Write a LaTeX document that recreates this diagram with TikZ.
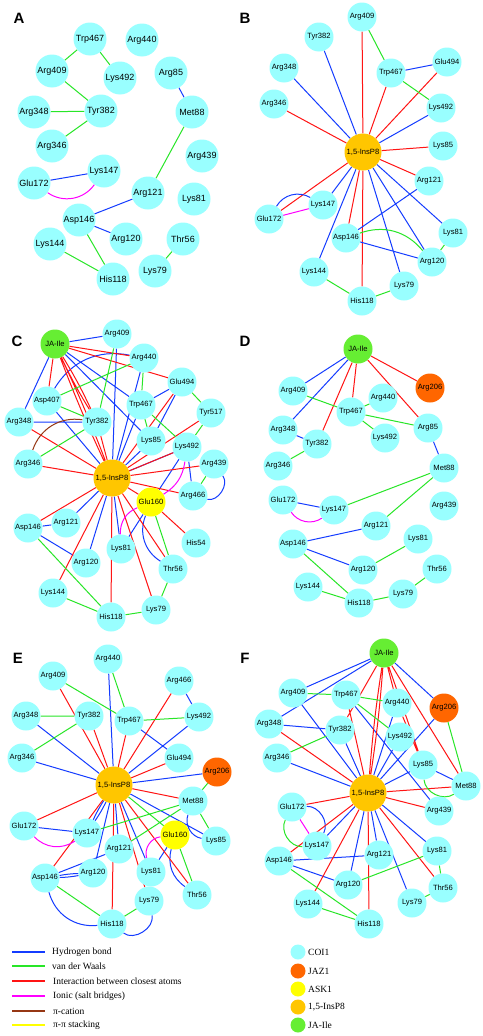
\documentclass[tikz,border=0pt]{standalone}
\usepackage{fontspec}
\setmainfont{Liberation Serif}
\setsansfont{Liberation Sans}
\usetikzlibrary{backgrounds}
\definecolor{coicol}{RGB}{153,255,255}
\definecolor{jazcol}{RGB}{255,102,0}
\definecolor{askcol}{RGB}{255,255,0}
\definecolor{inscol}{RGB}{255,198,0}
\definecolor{jacol}{RGB}{102,238,51}
\definecolor{hbcol}{RGB}{20,60,255}
\definecolor{vdwcol}{RGB}{40,230,40}
\definecolor{clcol}{RGB}{255,20,20}
\definecolor{ioncol}{RGB}{255,0,255}
\definecolor{piccol}{RGB}{150,55,20}
\definecolor{stkcol}{RGB}{255,255,0}

\begin{document}
\begin{tikzpicture}[x=1pt, y=-1pt,
    res/.style={circle, inner sep=0pt, minimum size=29pt, font=\sffamily\fontsize{7.6}{8}\selectfont},
    coi/.style={res, fill=coicol},
    coiA/.style={coi, minimum size=33pt, font=\sffamily\fontsize{9}{10}\selectfont},
    jaz/.style={res, fill=jazcol},
    ask/.style={res, fill=askcol},
    ins/.style={res, fill=inscol, minimum size=37pt},
    jaile/.style={res, fill=jacol},
    plabel/.style={font=\sffamily\bfseries\fontsize{15}{15}\selectfont},
    legtxt/.style={anchor=west, inner sep=0pt, font=\fontsize{9.5}{10}\selectfont},
    legline/.style={line width=1.8pt},
    hbond/.style={draw=hbcol, line width=1pt},
    vdw/.style={draw=vdwcol, line width=1pt},
    closest/.style={draw=clcol, line width=1pt},
    ionic/.style={draw=ioncol, line width=1pt},
    pication/.style={draw=piccol, line width=1pt},
    stacking/.style={draw=stkcol, line width=1pt}]
    \useasboundingbox (0,0) rectangle (482,1036);

    \node[plabel] (labA) at (19,18) {A};
    \node[coiA] (aTrp467) at (90,39) {Trp467};
    \node[coiA] (aArg440) at (142,40) {Arg440};
    \node[coiA] (aArg409) at (52,71) {Arg409};
    \node[coiA] (aLys492) at (120,78) {Lys492};
    \node[coiA] (aArg85) at (171,73) {Arg85};
    \node[coiA] (aArg348) at (34,112) {Arg348};
    \node[coiA] (aTyr382) at (101,111) {Tyr382};
    \node[coiA] (aMet88) at (192,112) {Met88};
    \node[coiA] (aArg346) at (52,146) {Arg346};
    \node[coiA] (aArg439) at (202,156) {Arg439};
    \node[coiA] (aGlu172) at (34,183) {Glu172};
    \node[coiA] (aLys147) at (104,171) {Lys147};
    \node[coiA] (aArg121) at (148,193) {Arg121};
    \node[coiA] (aLys81) at (194,199) {Lys81};
    \node[coiA] (aAsp146) at (79,220) {Asp146};
    \node[coiA] (aArg120) at (126,239) {Arg120};
    \node[coiA] (aThr56) at (183,239) {Thr56};
    \node[coiA] (aLys144) at (50,244) {Lys144};
    \node[coiA] (aHis118) at (113,279) {His118};
    \node[coiA] (aLys79) at (155,271) {Lys79};
    \begin{pgfonlayer}{background}
        \fill[white] (0,0) rectangle (482,1036);
        \draw[vdw] (aTrp467) -- (aArg409) (aTrp467) -- (aLys492) (aArg409) -- (aTyr382) (aArg348) -- (aTyr382)
            (aTyr382) -- (aArg346) (aMet88) -- (aArg121) (aAsp146) -- (aHis118) (aLys144) -- (aHis118) (aThr56) -- (aLys79);
        \draw[hbond] (aArg85) -- (aMet88) (aGlu172) -- (aLys147) (aArg121) -- (aAsp146) (aAsp146) -- (aArg120);
        \draw[ionic] (aGlu172) to[bend right=45] (aLys147);
    \end{pgfonlayer}

    \node[plabel] (labB) at (245,18) {B};
    \node[coi] (bArg409) at (362,17) {Arg409};
    \node[coi] (bTyr382) at (319,37) {Tyr382};
    \node[coi] (bArg348) at (284,68) {Arg348};
    \node[coi] (bGlu494) at (447,62) {Glu494};
    \node[coi] (bTrp467) at (391,73) {Trp467};
    \node[coi] (bArg346) at (274,104) {Arg346};
    \node[coi] (bLys492) at (441,108) {Lys492};
    \node[ins] (bIns) at (363,152) {1,5-InsP8};
    \node[coi] (bLys85) at (443,146) {Lys85};
    \node[coi] (bArg121) at (429,181) {Arg121};
    \node[coi] (bLys147) at (323,205) {Lys147};
    \node[coi] (bGlu172) at (269,219) {Glu172};
    \node[coi] (bAsp146) at (346,238) {Asp146};
    \node[coi] (bLys81) at (453,233) {Lys81};
    \node[coi] (bArg120) at (432,262) {Arg120};
    \node[coi] (bLys144) at (314,272) {Lys144};
    \node[coi] (bHis118) at (362,301) {His118};
    \node[coi] (bLys79) at (404,286) {Lys79};
    \begin{pgfonlayer}{background}
        \draw[closest] (bIns) -- (bArg409) (bIns) -- (bArg346) (bIns) -- (bTrp467) (bIns) -- (bGlu494) (bIns) -- (bLys85)
            (bIns) -- (bArg121) (bIns) -- (bGlu172) (bIns) -- (bAsp146) (bIns) -- (bHis118);
        \draw[hbond] (bIns) -- (bTyr382) (bIns) -- (bArg348) (bIns) -- (bLys492) (bIns) -- (bLys81) (bIns) -- (bLys147)
            (bIns) -- (bArg120) (bIns) -- (bLys79) (bIns) -- (bLys144) (bTrp467) -- (bGlu494) (bArg121) -- (bAsp146)
            (bAsp146) -- (bArg120) (bGlu172) to[bend left=45] (bLys147);
        \draw[vdw] (bArg409) -- (bTrp467) (bTrp467) -- (bLys492) (bAsp146) to[bend left=35] (bArg120) (bLys81) -- (bArg120)
            (bLys144) -- (bHis118) (bHis118) -- (bLys79);
        \draw[ionic] (bGlu172) -- (bLys147);
    \end{pgfonlayer}

    \node[plabel] (labC) at (17,341) {C};
    \node[jaile] (cJA) at (55,344) {JA-Ile};
    \node[coi] (cArg409) at (117,334) {Arg409};
    \node[coi] (cArg440) at (144,358) {Arg440};
    \node[coi] (cGlu494) at (182,382) {Glu494};
    \node[coi] (cAsp407) at (47,401) {Asp407};
    \node[coi] (cTrp467) at (141,405) {Trp467};
    \node[coi] (cTyr517) at (211,413) {Tyr517};
    \node[coi] (cArg348) at (19,422) {Arg348};
    \node[coi] (cTyr382) at (97,422) {Tyr382};
    \node[coi] (cLys85) at (151,441) {Lys85};
    \node[coi] (cLys492) at (187,447) {Lys492};
    \node[coi] (cArg346) at (28,464) {Arg346};
    \node[coi] (cArg439) at (214,464) {Arg439};
    \node[ins] (cIns) at (112,478) {1,5-InsP8};
    \node[coi] (cArg466) at (193,496) {Arg466};
    \node[ask] (cGlu160) at (151,502) {Glu160};
    \node[coi] (cAsp146) at (28,528) {Asp146};
    \node[coi] (cArg121) at (66,523) {Arg121};
    \node[coi] (cLys81) at (121,549) {Lys81};
    \node[coi] (cHis54) at (196,543) {His54};
    \node[coi] (cArg120) at (86,563) {Arg120};
    \node[coi] (cThr56) at (173,569) {Thr56};
    \node[coi] (cLys144) at (53,593) {Lys144};
    \node[coi] (cLys79) at (156,610) {Lys79};
    \node[coi] (cHis118) at (111,617) {His118};
    \begin{pgfonlayer}{background}
        \draw[hbond] (cJA) -- (cArg409) (cJA) -- (cArg348) (cJA) -- (cTrp467) (cJA) -- (cLys85) (cArg409) -- (cIns)
            (cArg440) to[bend right=35] (cAsp407) (cArg440) -- (cIns) (cGlu494) -- (cTrp467) (cGlu494) -- (cLys85)
            (cTrp467) -- (cIns) (cAsp407) -- (cIns) (cArg348) -- (cTyr382) (cLys85) -- (cIns) (cLys492) -- (cIns)
            (cLys492) -- (cGlu160) (cLys492) -- (cArg466) (cArg439) to[bend left=70] (cArg466) (cIns) -- (cArg121)
            (cIns) -- (cArg120) (cIns) -- (cLys81) (cGlu160) -- (cLys81) (cGlu160) to[bend right=40] (cThr56)
            (cAsp146) -- (cArg121) (cAsp146) -- (cArg120);
        \draw[closest] (cJA) -- (cArg440) (cJA) -- (cGlu494) (cJA) -- (cAsp407) (cJA) to[bend left=3] (cTyr382)
            (cJA) to[bend right=3] (cTyr382) (cJA) to[bend left=2] (cIns) (cJA) to[bend right=2] (cIns) (cArg348) -- (cIns)
            (cTyr382) -- (cIns) (cArg346) -- (cIns) (cGlu494) -- (cIns) (cTyr517) -- (cIns) (cLys492) -- (cIns)
            (cArg439) -- (cIns) (cIns) -- (cArg466) (cIns) -- (cGlu160) (cIns) -- (cAsp146) (cIns) -- (cLys144)
            (cIns) -- (cHis118) (cIns) -- (cLys79) (cIns) -- (cThr56) (cGlu160) -- (cHis54);
        \draw[vdw] (cArg409) -- (cTyr382) (cArg440) -- (cAsp407) (cArg440) -- (cTrp467) (cGlu494) -- (cTyr517)
            (cTrp467) -- (cLys85) (cTrp467) -- (cLys492) (cTyr517) -- (cLys492) (cAsp407) -- (cTyr382)
            (cTyr382) -- (cArg346) (cArg439) -- (cArg466) (cGlu160) -- (cThr56) (cAsp146) -- (cHis118)
            (cLys144) -- (cHis118) (cHis118) -- (cLys79) (cLys79) -- (cThr56);
        \draw[pication] (cTyr382) to[bend right=40] (cArg346);
        \draw[ionic] (cLys492) to[bend left=25] (cGlu160) (cGlu160) to[bend right=35] (cLys81);
    \end{pgfonlayer}

    \node[plabel] (labD) at (245,341) {D};
    \node[jaile] (dJA) at (358,349) {JA-Ile};
    \node[jaz] (dArg206) at (430,388) {Arg206};
    \node[coi] (dArg409) at (293,391) {Arg409};
    \node[coi] (dArg440) at (383,398) {Arg440};
    \node[coi] (dTrp467) at (351,412) {Trp467};
    \node[coi] (dArg348) at (283,430) {Arg348};
    \node[coi] (dArg85) at (428,428) {Arg85};
    \node[coi] (dLys492) at (385,438) {Lys492};
    \node[coi] (dTyr382) at (317,444) {Tyr382};
    \node[coi] (dArg346) at (278,466) {Arg346};
    \node[coi] (dMet88) at (444,468) {Met88};
    \node[coi] (dGlu172) at (283,500) {Glu172};
    \node[coi] (dLys147) at (334,510) {Lys147};
    \node[coi] (dArg439) at (444,506) {Arg439};
    \node[coi] (dArg121) at (376,526) {Arg121};
    \node[coi] (dLys81) at (418,539) {Lys81};
    \node[coi] (dAsp146) at (293,544) {Asp146};
    \node[coi] (dArg120) at (363,570) {Arg120};
    \node[coi] (dThr56) at (437,569) {Thr56};
    \node[coi] (dLys144) at (308,587) {Lys144};
    \node[coi] (dLys79) at (403,594) {Lys79};
    \node[coi] (dHis118) at (359,603) {His118};
    \begin{pgfonlayer}{background}
        \draw[hbond] (dJA) -- (dArg409) (dJA) -- (dArg348) (dArg348) -- (dTyr382) (dArg85) -- (dMet88)
            (dGlu172) -- (dLys147) (dArg121) -- (dAsp146) (dAsp146) -- (dArg120);
        \draw[closest] (dJA) -- (dTyr382) (dJA) -- (dTrp467) (dJA) -- (dArg85) (dJA) -- (dArg206);
        \draw[vdw] (dArg409) -- (dTrp467) (dTrp467) -- (dArg440) (dTrp467) -- (dArg85) (dTrp467) -- (dLys492)
            (dTyr382) -- (dArg346) (dMet88) -- (dLys147) (dMet88) -- (dArg121) (dAsp146) -- (dHis118)
            (dArg120) -- (dLys81) (dLys144) -- (dHis118) (dHis118) -- (dLys79) (dLys79) -- (dThr56);
        \draw[ionic] (dGlu172) to[bend right=45] (dLys147);
    \end{pgfonlayer}

    \node[plabel] (labE) at (18,658) {E};
    \node[coi] (eArg440) at (108,659) {Arg440};
    \node[coi] (eArg409) at (53,676) {Arg409};
    \node[coi] (eArg466) at (179,681) {Arg466};
    \node[coi] (eArg348) at (26,716) {Arg348};
    \node[coi] (eTyr382) at (89,716) {Tyr382};
    \node[coi] (eTrp467) at (129,721) {Trp467};
    \node[coi] (eLys492) at (199,717) {Lys492};
    \node[coi] (eArg346) at (22,758) {Arg346};
    \node[coi] (eGlu494) at (179,758) {Glu494};
    \node[jaz] (eArg206) at (217,772) {Arg206};
    \node[ins] (eIns) at (114,785) {1,5-InsP8};
    \node[coi] (eMet88) at (193,801) {Met88};
    \node[coi] (eGlu172) at (24,826) {Glu172};
    \node[coi] (eLys147) at (87,833) {Lys147};
    \node[ask] (eGlu160) at (175,835) {Glu160};
    \node[coi] (eLys85) at (216,841) {Lys85};
    \node[coi] (eArg121) at (119,849) {Arg121};
    \node[coi] (eAsp146) at (45,878) {Asp146};
    \node[coi] (eArg120) at (93,873) {Arg120};
    \node[coi] (eLys81) at (151,872) {Lys81};
    \node[coi] (eThr56) at (197,895) {Thr56};
    \node[coi] (eLys79) at (149,901) {Lys79};
    \node[coi] (eHis118) at (112,924) {His118};
    \begin{pgfonlayer}{background}
        \draw[hbond] (eArg440) -- (eIns) (eArg466) -- (eLys492) (eArg348) -- (eIns) (eTrp467) -- (eGlu494)
            (eLys492) -- (eIns) (eArg346) -- (eIns) (eArg206) -- (eIns) (eIns) to[bend right=4] (eLys147)
            (eIns) to[bend left=4] (eLys147) (eIns) -- (eArg120) (eIns) -- (eArg121) (eIns) -- (eLys81)
            (eIns) -- (eLys85) (eGlu172) -- (eLys147) (eMet88) to[bend right=50] (eLys85) (eGlu160) -- (eLys81)
            (eGlu160) to[bend right=35] (eThr56) (eAsp146) -- (eArg121) (eAsp146) to[bend left=4] (eArg120)
            (eAsp146) to[bend right=4] (eArg120) (eAsp146) to[bend right=40] (eHis118) (eHis118) to[bend right=70] (eLys79);
        \draw[closest] (eArg409) -- (eIns) (eArg466) -- (eIns) (eTyr382) -- (eIns) (eTrp467) -- (eIns)
            (eGlu494) -- (eIns) (eIns) -- (eMet88) (eIns) -- (eGlu172) (eIns) -- (eAsp146) (eIns) -- (eHis118)
            (eIns) -- (eLys79) (eIns) -- (eThr56);
        \draw[vdw] (eArg440) -- (eTrp467) (eArg409) -- (eTrp467) (eArg348) -- (eTyr382) (eTyr382) -- (eArg346)
            (eTrp467) -- (eLys492) (eArg206) -- (eMet88) (eIns) -- (eGlu160) (eLys147) -- (eMet88)
            (eMet88) -- (eArg121) (eMet88) -- (eLys85) (eGlu160) -- (eThr56) (eAsp146) -- (eHis118) (eHis118) -- (eLys79);
        \draw[ionic] (eGlu172) to[bend right=40] (eLys147) (eGlu160) to[bend right=50] (eLys81);
    \end{pgfonlayer}

    \node[plabel] (labF) at (245,658) {F};
    \node[jaile] (fJA) at (384,653) {JA-Ile};
    \node[coi] (fArg409) at (293,693) {Arg409};
    \node[coi] (fTrp467) at (346,695) {Trp467};
    \node[coi] (fArg440) at (397,703) {Arg440};
    \node[jaz] (fArg206) at (444,708) {Arg206};
    \node[coi] (fArg348) at (269,724) {Arg348};
    \node[coi] (fTyr382) at (340,730) {Tyr382};
    \node[coi] (fLys492) at (400,737) {Lys492};
    \node[coi] (fArg346) at (277,758) {Arg346};
    \node[coi] (fLys85) at (423,765) {Lys85};
    \node[coi] (fMet88) at (466,786) {Met88};
    \node[ins] (fIns) at (368,793) {1,5-InsP8};
    \node[coi] (fGlu172) at (292,807) {Glu172};
    \node[coi] (fArg439) at (439,811) {Arg439};
    \node[coi] (fLys147) at (317,846) {Lys147};
    \node[coi] (fLys81) at (437,851) {Lys81};
    \node[coi] (fArg121) at (379,855) {Arg121};
    \node[coi] (fAsp146) at (279,861) {Asp146};
    \node[coi] (fArg120) at (348,885) {Arg120};
    \node[coi] (fThr56) at (443,888) {Thr56};
    \node[coi] (fLys79) at (412,903) {Lys79};
    \node[coi] (fLys144) at (308,904) {Lys144};
    \node[coi] (fHis118) at (369,924) {His118};
    \begin{pgfonlayer}{background}
        \draw[hbond] (fJA) -- (fArg409) (fJA) -- (fArg348) (fJA) -- (fArg206) (fArg409) -- (fIns) (fTrp467) -- (fArg439)
            (fArg440) -- (fIns) (fArg206) -- (fIns) (fArg348) -- (fTyr382) (fTyr382) -- (fIns) (fLys492) -- (fIns)
            (fArg346) -- (fIns) (fLys85) -- (fIns) (fLys85) -- (fMet88) (fIns) -- (fLys147) (fIns) -- (fArg121)
            (fIns) -- (fArg120) (fIns) -- (fLys79) (fIns) -- (fLys81) (fGlu172) to[bend left=60] (fLys147)
            (fAsp146) -- (fArg121) (fAsp146) -- (fArg120);
        \draw[closest] (fJA) -- (fTyr382) (fJA) to[bend left=2] (fIns) (fJA) to[bend right=2] (fIns) (fJA) -- (fArg440)
            (fJA) -- (fLys85) (fJA) -- (fMet88) (fTrp467) -- (fIns) (fArg440) -- (fLys85) (fArg348) -- (fIns)
            (fMet88) -- (fIns) (fIns) -- (fGlu172) (fIns) -- (fAsp146) (fIns) -- (fLys144) (fIns) -- (fHis118)
            (fIns) -- (fThr56) (fIns) -- (fArg439);
        \draw[vdw] (fArg409) -- (fTrp467) (fTrp467) -- (fArg440) (fTrp467) -- (fLys492) (fArg206) -- (fMet88)
            (fTyr382) -- (fArg346) (fLys85) to[bend right=60] (fMet88) (fGlu172) to[bend right=60] (fLys147)
            (fAsp146) -- (fHis118) (fLys144) -- (fHis118) (fArg120) -- (fLys81) (fLys81) -- (fThr56) (fThr56) -- (fLys79);
        \draw[ionic] (fGlu172) -- (fLys147);
    \end{pgfonlayer}

    \draw[hbond, legline] (12,952) -- (45,952);
    \node[legtxt] (tHbond) at (52,952) {Hydrogen bond};
    \draw[vdw, legline] (12,966) -- (45,966);
    \node[legtxt] (tVdw) at (52,966) {van der Waals};
    \draw[closest, legline] (12,981) -- (45,981);
    \node[legtxt] (tClosest) at (53,981) {Interaction between closest atoms};
    \draw[ionic, legline] (12,996) -- (45,996);
    \node[legtxt] (tIonic) at (53,996) {Ionic (salt bridges)};
    \draw[pication, legline] (12,1011) -- (45,1011);
    \node[legtxt] (tPication) at (53,1011) {π-cation};
    \draw[stacking, legline] (12,1025) -- (45,1025);
    \node[legtxt] (tStacking) at (53,1025) {π-π stacking};

    \node[coi, minimum size=15pt] (kCoi) at (298,952) {};
    \node[legtxt] (tCoi) at (308,952) {COI1};
    \node[jaz, minimum size=15pt] (kJaz) at (298,971) {};
    \node[legtxt] (tJaz) at (308,971) {JAZ1};
    \node[ask, minimum size=15pt] (kAsk) at (298,989) {};
    \node[legtxt] (tAsk) at (308,989) {ASK1};
    \node[ins, minimum size=15pt] (kIns) at (298,1007) {};
    \node[legtxt] (tIns) at (308,1007) {1,5-InsP8};
    \node[jaile, minimum size=15pt] (kJa) at (298,1025) {};
    \node[legtxt] (tJa) at (308,1025) {JA-Ile};
\end{tikzpicture}
\end{document}
